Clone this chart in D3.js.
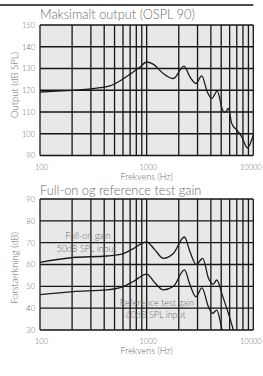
<!DOCTYPE html>
<html>
<head>
<meta charset="utf-8">
<script src="https://cdn.jsdelivr.net/npm/d3@7"></script>
<style>
  body { margin: 0; background: #fff; }
  svg text { font-family: Lato, "Open Sans", sans-serif; font-weight: 300; fill: #6b6b6b; }
</style>
</head>
<body>
<svg id="chart"></svg>
<script>
const width = 263;
const height = 376;

// Maksimalt output (OSPL 90)
const osplFreq = [100, 180, 250, 366, 453, 550, 700, 866, 1000, 1150, 1432, 1777, 2239, 2547, 2900, 3280, 3710, 4075, 4590, 5160, 5430, 5840, 6280, 7000, 7800, 8810, 10000];
const osplLevel = [119.2, 119.8, 120.3, 121.2, 122, 124, 127.4, 130.7, 133.0, 132, 127.7, 125.4, 131.1, 126.1, 123.1, 126.6, 119.2, 116.2, 119.6, 110.8, 109.8, 111.6, 104.7, 101.7, 98.6, 93.5, 99.4];

// Full-on gain, 50dB SPL input
const fullOnFreq = [100, 205, 423, 605, 750, 1000, 1200, 1432, 1777, 2260, 2550, 2920, 3360, 3800, 4215, 4540, 5160, 5630, 6500, 7000];
const fullOnGain = [61, 63.2, 63.9, 65, 67.3, 70.4, 66.6, 62.8, 65, 72.6, 65.8, 60, 62.8, 53.7, 51, 52.9, 45.5, 40, 30, 24];

// Reference test gain, 60dB SPL input
const refFreq = [100, 205, 423, 605, 750, 1000, 1200, 1432, 1777, 2260, 2550, 2900, 3300, 3800, 4150, 4540, 5100, 5500];
const refGain = [46.2, 47.6, 48.4, 49.9, 52.2, 55.6, 51.5, 48.4, 49.9, 57.5, 50.7, 45.2, 49.3, 40.6, 37.6, 39.1, 30, 24];

const xTickLabels = [100, 1000, 10000];
const osplTicks = [90, 100, 110, 120, 130, 140, 150];
const gainTicks = [30, 40, 50, 60, 70, 80, 90];

const svg = d3.select("#chart")
  .attr("width", width)
  .attr("height", height);

// thin rule across the top
svg.append("line")
  .attr("x1", 0).attr("x2", 253.3)
  .attr("y1", 5).attr("y2", 5)
  .attr("stroke", "#111")
  .attr("stroke-width", 1.4);

function drawPanel(p) {
  const x = d3.scaleLog().domain([100, 10000]).range([p.left, p.right]);
  const y = d3.scaleLinear().domain(p.yDomain).range([p.bottom, p.top]);

  const g = svg.append("g");

  // title
  g.append("text")
    .attr("x", p.left)
    .attr("y", p.titleY)
    .attr("font-size", 12.8)
    .text(p.title);

  // plot background
  g.append("rect")
    .attr("x", p.left).attr("y", p.top)
    .attr("width", p.right - p.left)
    .attr("height", p.bottom - p.top)
    .attr("fill", "#e8e8e8");

  // grid lines (every frequency step and every 10 dB)
  g.append("g").selectAll("line")
    .data(x.ticks())
    .join("line")
    .attr("x1", d => x(d)).attr("x2", d => x(d))
    .attr("y1", p.top).attr("y2", p.bottom)
    .attr("stroke", "#151515")
    .attr("stroke-width", 1.3);

  g.append("g").selectAll("line")
    .data(p.yTicks)
    .join("line")
    .attr("x1", p.left).attr("x2", p.right)
    .attr("y1", d => y(d)).attr("y2", d => y(d))
    .attr("stroke", "#151515")
    .attr("stroke-width", 1.3);

  // y tick labels
  const yAxisG = g.append("g")
    .attr("transform", `translate(${p.left},0)`)
    .call(d3.axisLeft(y).tickValues(p.yTicks).tickSize(0).tickPadding(5));
  yAxisG.select(".domain").remove();
  yAxisG.selectAll("text")
    .attr("font-size", 7.5)
    .attr("font-family", null)
    .attr("fill", null);

  // x tick labels
  const xAxisG = g.append("g")
    .attr("transform", `translate(0,${p.bottom})`)
    .call(d3.axisBottom(x).tickValues(xTickLabels).tickFormat(d3.format("d")).tickSize(0).tickPadding(9));
  xAxisG.select(".domain").remove();
  xAxisG.selectAll("text")
    .attr("font-size", 7.5)
    .attr("font-family", null)
    .attr("fill", null)
    .attr("dx", d => d === 10000 ? -3 : 1);

  // axis titles
  g.append("text")
    .attr("x", (p.left + p.right) / 2)
    .attr("y", p.bottom + 24)
    .attr("text-anchor", "middle")
    .attr("font-size", 9)
    .text("Frekvens (Hz)");

  g.append("text")
    .attr("transform", `translate(18,${p.yLabelCenter}) rotate(-90)`)
    .attr("text-anchor", "middle")
    .attr("font-size", 9.5)
    .text(p.yLabel);

  // clip so curves stop at the plot edge
  svg.append("clipPath")
    .attr("id", p.id)
    .append("rect")
    .attr("x", p.left).attr("y", p.top)
    .attr("width", p.right - p.left)
    .attr("height", p.bottom - p.top);

  const line = d3.line()
    .x(d => x(d[0]))
    .y(d => y(d[1]))
    .curve(d3.curveMonotoneX);

  p.series.forEach(s => {
    g.append("path")
      .datum(d3.zip(s.freq, s.values))
      .attr("clip-path", `url(#${p.id})`)
      .attr("fill", "none")
      .attr("stroke", "#1a1a1a")
      .attr("stroke-width", 1.3)
      .attr("d", line);
  });

  // curve annotations
  (p.notes || []).forEach(n => {
    g.append("text")
      .attr("x", n.x).attr("y", n.y)
      .attr("text-anchor", "middle")
      .attr("font-size", 9)
      .attr("fill", "#7a7a7a")
      .text(n.text);
  });
}

drawPanel({
  id: "clip-ospl",
  title: "Maksimalt output (OSPL 90)",
  titleY: 19,
  left: 40, right: 253.3, top: 25, bottom: 155.5,
  yDomain: [90, 150],
  yTicks: osplTicks,
  yLabel: "Output (dB SPL)",
  yLabelCenter: 85,
  series: [{ freq: osplFreq, values: osplLevel }]
});

drawPanel({
  id: "clip-gain",
  title: "Full-on og reference test gain",
  titleY: 194.5,
  left: 40, right: 253.3, top: 199, bottom: 330,
  yDomain: [30, 90],
  yTicks: gainTicks,
  yLabel: "Forstærkning (dB)",
  yLabelCenter: 268,
  series: [
    { freq: fullOnFreq, values: fullOnGain },
    { freq: refFreq, values: refGain }
  ],
  notes: [
    { x: 88, y: 238.5, text: "Full-on gain" },
    { x: 86.5, y: 251.5, text: "50dB SPL input" },
    { x: 157, y: 306, text: "Reference test gain" },
    { x: 155.5, y: 318, text: "60dB SPL input" }
  ]
});
</script>
</body>
</html>
